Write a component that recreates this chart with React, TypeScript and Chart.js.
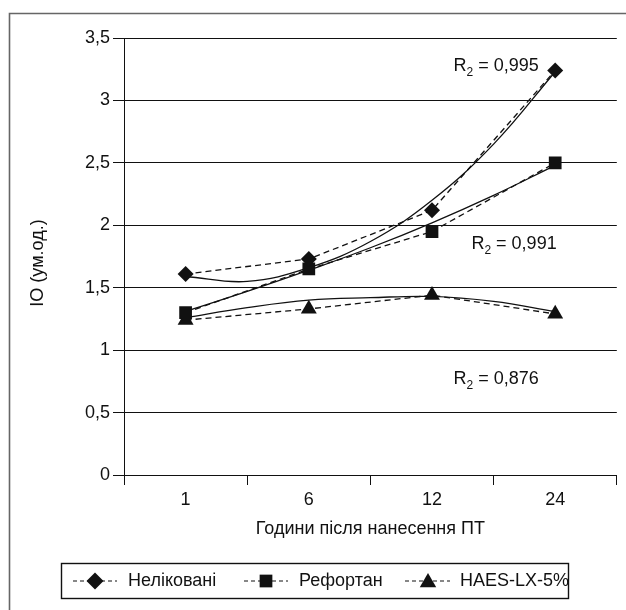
import React, { useEffect, useRef } from "react";
import { Chart, registerables } from "chart.js";

Chart.register(...registerables);

// ---- data ----
const categories = ["1", "6", "12", "24"];
const seriesNames = ["Неліковані", "Рефортан", "HAES-LX-5%"];
const untreated = [1.61, 1.73, 2.12, 3.24];
const refortan = [1.3, 1.65, 1.95, 2.5];
const haes = [1.24, 1.33, 1.44, 1.29];

// trend lines at these category positions (1 = first category)
const trendX = [1, 1.5, 2, 2.5, 3, 3.5, 4];
const trendUntreated = [1.59, 1.55, 1.66, 1.87, 2.2, 2.65, 3.23];
const trendRefortan = [1.31, 1.47, 1.64, 1.82, 2.02, 2.24, 2.48];
const trendHaes = [1.26, 1.34, 1.4, 1.42, 1.43, 1.39, 1.31];

const r2Values = ["0,995", "0,991", "0,876"];
const r2AnchorX = [3.175, 3.32, 3.175];
const r2AnchorY = [3.238, 1.807, 0.729];

const yTitle = "IO (ум.од.)";
const xTitle = "Години після нанесення ПТ";

const FONT = "'Liberation Sans', Arial, sans-serif";
const INK = "#111";

function drawMarker(ctx: CanvasRenderingContext2D, style: string, x: number, y: number, r: number) {
  ctx.save();
  ctx.fillStyle = INK;
  ctx.beginPath();
  if (style === "rectRot") {
    ctx.moveTo(x, y - r);
    ctx.lineTo(x + r, y);
    ctx.lineTo(x, y + r);
    ctx.lineTo(x - r, y);
  } else if (style === "rect") {
    const s = Math.SQRT1_2 * r;
    ctx.rect(x - s, y - s, 2 * s, 2 * s);
  } else {
    const h = (r * Math.sqrt(3)) / 2;
    ctx.moveTo(x, y - r * 0.85);
    ctx.lineTo(x + h, y + r * 0.65);
    ctx.lineTo(x - h, y + r * 0.65);
  }
  ctx.closePath();
  ctx.fill();
  ctx.restore();
}

const decorPlugin = {
  id: "decor",
  beforeDraw(chart: any) {
    const ctx = chart.ctx as CanvasRenderingContext2D;
    ctx.save();
    ctx.strokeStyle = "#666";
    ctx.lineWidth = 1.6;
    ctx.beginPath();
    ctx.moveTo(9.5, 610);
    ctx.lineTo(9.5, 13.5);
    ctx.lineTo(626, 13.5);
    ctx.stroke();
    ctx.restore();
  },
  afterDraw(chart: any) {
    const ctx = chart.ctx as CanvasRenderingContext2D;
    const xs = chart.scales.xt;
    const ys = chart.scales.y;

    // y-axis title
    ctx.save();
    ctx.fillStyle = INK;
    ctx.font = `18px ${FONT}`;
    ctx.translate(38, 263);
    ctx.rotate(-Math.PI / 2);
    ctx.textAlign = "center";
    ctx.textBaseline = "middle";
    ctx.fillText(yTitle, 0, 0);
    ctx.restore();

    // R² labels
    ctx.save();
    ctx.fillStyle = INK;
    ctx.textBaseline = "alphabetic";
    ctx.textAlign = "left";
    for (let i = 0; i < r2Values.length; i++) {
      const px = xs.getPixelForValue(r2AnchorX[i]);
      const py = ys.getPixelForValue(r2AnchorY[i]);
      ctx.font = `18px ${FONT}`;
      ctx.fillText("R", px, py);
      let w = ctx.measureText("R").width;
      ctx.font = `12px ${FONT}`;
      ctx.fillText("2", px + w, py + 5);
      w += ctx.measureText("2").width;
      ctx.font = `18px ${FONT}`;
      ctx.fillText(" = " + r2Values[i], px + w, py);
    }
    ctx.restore();

    // legend
    ctx.save();
    ctx.strokeStyle = INK;
    ctx.lineWidth = 1.4;
    ctx.strokeRect(61.5, 563.5, 507, 35);
    const cy = 581;
    const items = [
      { x1: 73, x2: 117, mx: 95, text: 128, style: "rectRot", r: 8.5 },
      { x1: 244, x2: 288, mx: 266, text: 299, style: "rect", r: 9 },
      { x1: 405, x2: 450, mx: 428, text: 460, style: "triangle", r: 9.5 },
    ];
    items.forEach((it, i) => {
      ctx.save();
      ctx.setLineDash([4, 3]);
      ctx.lineWidth = 1.2;
      ctx.beginPath();
      ctx.moveTo(it.x1, cy);
      ctx.lineTo(it.x2, cy);
      ctx.stroke();
      ctx.restore();
      drawMarker(ctx, it.style, it.mx, cy, it.r);
      ctx.fillStyle = INK;
      ctx.font = `18px ${FONT}`;
      ctx.textBaseline = "middle";
      ctx.textAlign = "left";
      ctx.fillText(seriesNames[i], it.text, cy);
    });
    ctx.restore();
  },
};

export default function App() {
  const ref = useRef<HTMLCanvasElement | null>(null);

  useEffect(() => {
    if (!ref.current) return;
    const dataLine = (label: string, data: number[], pointStyle: string, radius: number) => ({
      label,
      data,
      xAxisID: "x",
      yAxisID: "y",
      borderColor: INK,
      borderWidth: 1.3,
      borderDash: [6, 4],
      pointStyle,
      pointRadius: radius,
      pointBackgroundColor: INK,
      pointBorderColor: INK,
      pointBorderWidth: 0,
      fill: false,
      tension: 0,
    });
    const trendLine = (label: string, ys: number[]) => ({
      label,
      data: trendX.map((x, i) => ({ x, y: ys[i] })),
      xAxisID: "xt",
      yAxisID: "y",
      borderColor: INK,
      borderWidth: 1.3,
      pointRadius: 0,
      fill: false,
      tension: 0.4,
    });

    const chart = new Chart(ref.current, {
      type: "line",
      data: {
        labels: categories,
        datasets: [
          dataLine(seriesNames[0], untreated, "rectRot", 8),
          dataLine(seriesNames[1], refortan, "rect", 9),
          dataLine(seriesNames[2], haes, "triangle", 9.2),
          trendLine("trend1", trendUntreated),
          trendLine("trend2", trendRefortan),
          trendLine("trend3", trendHaes),
        ] as any,
      },
      options: {
        animation: false,
        responsive: false,
        layout: { padding: { left: 0, right: 0, top: 38, bottom: 65 } },
        plugins: { legend: { display: false }, tooltip: { enabled: false } },
        scales: {
          x: {
            type: "category",
            offset: true,
            grid: { display: true, drawOnChartArea: false, drawTicks: true, tickLength: 10, offset: true, color: INK },
            border: { color: INK, width: 1 },
            ticks: { color: INK, font: { family: FONT, size: 18 }, padding: 4, maxRotation: 0 },
            title: { display: true, text: xTitle, color: INK, font: { family: FONT, size: 18 }, padding: { top: 0, bottom: 5 } },
            afterFit: (s: any) => {
              s.height = 70;
            },
          },
          xt: { type: "linear", display: false, min: 0.5, max: 4.5 },
          y: {
            min: 0,
            max: 3.5,
            ticks: {
              stepSize: 0.5,
              color: INK,
              font: { family: FONT, size: 18 },
              padding: 3,
              callback: (v: any) => String(v).replace(".", ","),
            },
            grid: { color: INK, lineWidth: 1, tickLength: 11 },
            border: { color: INK, width: 1 },
            title: { display: false },
            afterFit: (s: any) => {
              s.width = 124;
            },
          },
        },
      } as any,
      plugins: [decorPlugin],
    });
    return () => chart.destroy();
  }, []);

  return (
    <div style={{ position: "absolute", left: 0, top: 0, width: 626, height: 610, background: "#fff" }}>
      <canvas ref={ref} width={626} height={610} style={{ display: "block" }} />
    </div>
  );
}
